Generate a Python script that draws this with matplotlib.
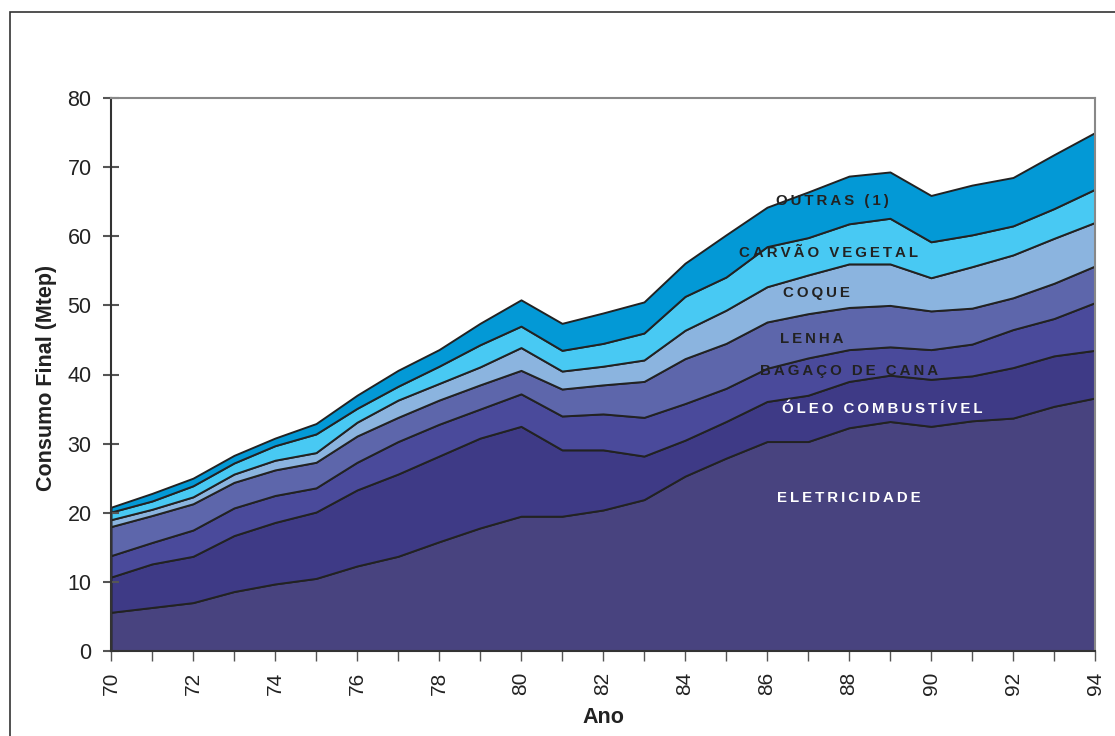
import matplotlib
matplotlib.use("Agg")
import matplotlib.pyplot as plt
from matplotlib.patches import Rectangle
from matplotlib.ticker import MultipleLocator

years = list(range(70, 95))
eletricidade = [5.6, 6.3, 7.0, 8.6, 9.7, 10.5, 12.3, 13.7, 15.8, 17.8, 19.5, 19.5, 20.4,
                21.9, 25.3, 27.9, 30.3, 30.3, 32.3, 33.2, 32.5, 33.3, 33.7, 35.4, 36.6]
oleo = [5.1, 6.3, 6.7, 8.1, 8.9, 9.6, 11.0, 11.9, 12.4, 13.0, 13.0, 9.6, 8.7,
        6.3, 5.2, 5.3, 5.8, 6.7, 6.7, 6.7, 6.8, 6.5, 7.3, 7.3, 6.9]
bagaco = [3.1, 3.1, 3.8, 4.0, 3.9, 3.5, 4.0, 4.7, 4.6, 4.2, 4.7, 4.9, 5.2,
          5.6, 5.3, 4.8, 4.8, 5.4, 4.6, 4.1, 4.3, 4.6, 5.5, 5.4, 6.9]
lenha = [4.2, 3.9, 3.8, 3.7, 3.7, 3.7, 3.8, 3.5, 3.5, 3.5, 3.4, 3.9, 4.2,
         5.2, 6.5, 6.5, 6.7, 6.4, 6.1, 6.0, 5.6, 5.2, 4.6, 5.1, 5.3]
coque = [1.0, 0.9, 1.0, 1.2, 1.4, 1.4, 2.0, 2.5, 2.4, 2.6, 3.3, 2.6, 2.7,
         3.1, 4.1, 4.8, 5.1, 5.6, 6.3, 6.0, 4.8, 6.0, 6.2, 6.5, 6.3]
carvao = [1.1, 1.2, 1.6, 1.6, 2.1, 2.7, 2.0, 2.0, 2.5, 3.2, 3.1, 3.0, 3.3,
          3.9, 4.9, 4.8, 5.8, 5.4, 5.8, 6.6, 5.2, 4.6, 4.2, 4.3, 4.8]
outras = [0.7, 1.1, 1.1, 1.1, 1.1, 1.5, 1.9, 2.3, 2.4, 3.1, 3.8, 3.9, 4.4,
          4.5, 4.8, 6.1, 5.7, 6.6, 6.9, 6.7, 6.7, 7.2, 7.0, 7.8, 8.2]

series_labels = ["ELETRICIDADE", "ÓLEO COMBUSTÍVEL", "BAGAÇO DE CANA", "LENHA",
                 "COQUE", "CARVÃO VEGETAL", "OUTRAS (1)"]
colors = ["#48437F", "#3E3A86", "#4A4A9B", "#5D66AB", "#8BB4DF", "#48C9F3", "#0399D6"]

plt.rcParams['font.family'] = ['Liberation Sans', 'DejaVu Sans']

fig = plt.figure(figsize=(11.15, 7.36), dpi=100)
ax = fig.add_axes([111/1115, 1 - 651/736, (1095 - 111)/1115, (651 - 98)/736])

ax.stackplot(years, eletricidade, oleo, bagaco, lenha, coque, carvao, outras,
             colors=colors, edgecolor="#222222", linewidth=1.4)

ax.set_xlim(70, 94)
ax.set_ylim(0, 80)
ax.xaxis.set_minor_locator(MultipleLocator(1))
ax.yaxis.set_major_locator(MultipleLocator(10))
ax.set_xticks(range(70, 95, 2))
ax.set_xticklabels([str(y) for y in range(70, 95, 2)], rotation=90, fontsize=15,
                   color="#222222")
ax.tick_params(axis='x', which='both', direction='out', length=7, width=1, color="#555555", pad=8)
ax.tick_params(axis='y', which='major', direction='inout', length=12, width=1.5, color="#555555",
               labelsize=15.5, labelcolor="#222222", pad=8)
ax.set_xlabel("Ano", fontsize=15.5, fontweight='bold', color="#222222")
ax.set_ylabel("Consumo Final (Mtep)", fontsize=15.5, fontweight='bold', color="#222222")
ax.yaxis.set_label_coords((57 - 111) / 984, 0.494)
ax.xaxis.set_label_coords((603 - 111) / 984, -(707 - 651) / 553)

for side in ['top', 'right']:
    ax.spines[side].set_color("#888888")
    ax.spines[side].set_linewidth(1.5)
for side in ['left', 'bottom']:
    ax.spines[side].set_color("#333333")
    ax.spines[side].set_linewidth(1.5)

def spaced(s):
    return "\u2009".join(s)

label_pos = [
    (88.0, 22.1, "white"),
    (88.8, 35.0, "white"),
    (88.0, 40.5, "#222222"),
    (87.1, 45.1, "#222222"),
    (87.2, 51.8, "#222222"),
    (87.5, 57.6, "#222222"),
    (87.6, 65.1, "#222222"),
]
for lab, (x, y, c) in zip(series_labels, label_pos):
    ax.text(x, y, spaced(lab), color=c, fontsize=10.8, fontweight='bold',
            ha='center', va='center', family=['Liberation Sans', 'DejaVu Sans'])

fig.patches.append(Rectangle((10/1115, -0.1), 1.2, 1 - 12/736 + 0.1, transform=fig.transFigure,
                             fill=False, edgecolor="#333333", linewidth=1.2))

fig.savefig("out.png", dpi=100)
